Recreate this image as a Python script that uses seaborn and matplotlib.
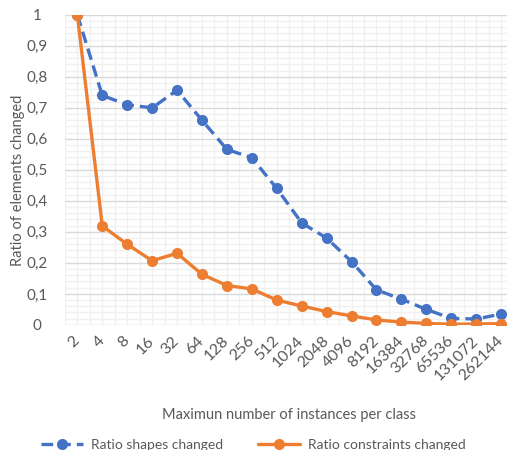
import pandas as pd
import matplotlib.pyplot as plt
import seaborn as sns
from matplotlib.ticker import MultipleLocator, FuncFormatter

# Data
instances = ['2', '4', '8', '16', '32', '64', '128', '256', '512', '1024', '2048',
             '4096', '8192', '16384', '32768', '65536', '131072', '262144']
shapes_changed = [1.0, 0.74, 0.71, 0.70, 0.757, 0.66, 0.566, 0.539, 0.44, 0.329,
                  0.28, 0.204, 0.113, 0.083, 0.05, 0.021, 0.019, 0.035]
constraints_changed = [1.0, 0.319, 0.26, 0.207, 0.231, 0.163, 0.127, 0.116, 0.08, 0.061,
                       0.043, 0.029, 0.016, 0.009, 0.005, 0.002, 0.003, 0.004]

pos = list(range(len(instances)))
df = pd.concat([
    pd.DataFrame({'pos': pos, 'ratio': shapes_changed, 'series': 'Ratio shapes changed'}),
    pd.DataFrame({'pos': pos, 'ratio': constraints_changed, 'series': 'Ratio constraints changed'}),
])

sns.set_style("white")
plt.rcParams['font.family'] = ['Lato', 'DejaVu Sans']
grey = '#595959'
blue, orange = '#4472C4', '#ED7D31'
dash = (3.5, 1.8)

fig = plt.figure(figsize=(5.07, 4.5), dpi=100)
ax = fig.add_axes([0.128, 0.278, 0.885, 0.689])

palette = {'Ratio shapes changed': blue, 'Ratio constraints changed': orange}
dashes = {'Ratio shapes changed': dash, 'Ratio constraints changed': ''}
sns.lineplot(data=df, x='pos', y='ratio', hue='series', style='series',
             palette=palette, dashes=dashes,
             markers={'Ratio shapes changed': 'o', 'Ratio constraints changed': 'o'},
             markersize=8, markeredgewidth=0, linewidth=2.4, ax=ax, legend=False)

ax.set_xlim(-0.5, len(instances) - 0.5)
ax.set_ylim(0, 1.0)
ax.set_xticks(pos)
ax.set_xticklabels(instances, rotation=45, ha='right', va='center',
                   rotation_mode='anchor', fontsize=11.5, color=grey)
ax.xaxis.set_minor_locator(MultipleLocator(0.5))
ax.yaxis.set_major_locator(MultipleLocator(0.1))
ax.yaxis.set_minor_locator(MultipleLocator(0.02))
ax.yaxis.set_major_formatter(FuncFormatter(lambda v, p: f"{v:g}".replace('.', ',')))
ax.tick_params(axis='y', labelsize=11, labelcolor=grey, length=0, pad=20)
ax.tick_params(axis='x', length=0, pad=10)
for t in ax.get_yticklabels():
    t.set_horizontalalignment('center')
ax.tick_params(which='minor', length=0)

ax.grid(which='major', axis='y', color='#D9D9D9', linewidth=1)
ax.grid(which='minor', axis='y', color='#F0F0F0', linewidth=1)
ax.grid(which='minor', axis='x', color='#F0F0F0', linewidth=1)
ax.grid(which='major', axis='x', color='#F0F0F0', linewidth=1)
ax.set_axisbelow(True)
for s in ax.spines.values():
    s.set_visible(False)

ax.set_xlabel("Maximun number of instances per class", fontsize=10.5, color=grey,
              labelpad=18)
ax.set_ylabel("")
fig.text(18 / 507, 1 - 180 / 450, "Ratio of elements changed", rotation=90,
         ha='center', va='center', fontsize=10.5, color=grey)

handles = [plt.Line2D([], [], color=blue, linestyle=(0, dash), linewidth=2.4,
                      marker='o', markersize=8, markeredgewidth=0),
           plt.Line2D([], [], color=orange, linewidth=2.4, marker='o', markersize=8,
                      markeredgewidth=0)]
fig.legend(handles, ['Ratio shapes changed', 'Ratio constraints changed'],
           loc='center', bbox_to_anchor=(0.5, 1 - 445 / 450), ncol=2, frameon=False,
           fontsize=10, labelcolor=grey, handlelength=3.0, handletextpad=0.6,
           columnspacing=2.5)

fig.savefig("out.png", dpi=100)
plt.close(fig)
